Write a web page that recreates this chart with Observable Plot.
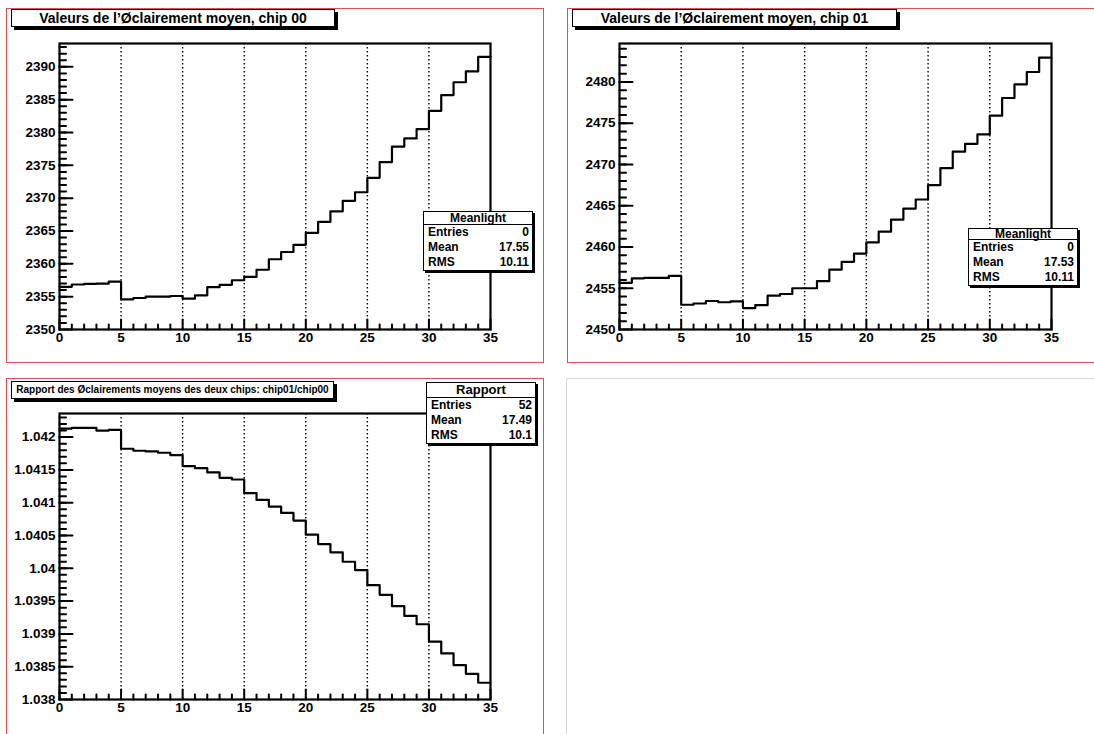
<!DOCTYPE html>
<html><head><meta charset="utf-8">
<script src="https://cdn.jsdelivr.net/npm/d3@7"></script>
<script src="https://cdn.jsdelivr.net/npm/@observablehq/plot@0.6"></script>
<style>
body{margin:0;background:#fff;}
#canvas{position:relative;width:1094px;height:734px;overflow:hidden;background:#fff;font-family:"Liberation Sans",Arial,Helvetica,sans-serif;font-weight:bold;color:#000;}
.pad{position:absolute;box-sizing:border-box;}
.plot{position:absolute;}
.title{position:absolute;box-sizing:border-box;border:1px solid #000;background:#fff;box-shadow:3px 3px 0 #000;text-align:center;white-space:nowrap;}
.stats{position:absolute;box-sizing:border-box;border:1px solid #000;background:#fff;box-shadow:2px 2px 0 #000;font-size:12px;}
.stats .hd{text-align:center;border-bottom:1px solid #000;}
.stats .row{display:flex;justify-content:space-between;padding:0 3px 0 4px;height:15px;line-height:15px;}
</style></head>
<body><div id="canvas"></div>
<script>
// ---- data ----
const binEdges = [0,1,2,3,4,5,6,7,8,9,10,11,12,13,14,15,16,17,18,19,20,21,22,23,24,25,26,27,28,29,30,31,32,33,34,35];
const chip00 = [2356.5,2356.85,2356.95,2357.0,2357.3,2354.6,2354.8,2355.0,2355.0,2355.1,2354.7,2355.2,2356.45,2356.8,2357.5,2358.0,2359.1,2360.7,2361.8,2362.9,2364.7,2366.4,2368.0,2369.6,2370.9,2373.1,2375.5,2377.85,2379.1,2380.5,2383.3,2385.7,2387.65,2389.3,2391.5];
const chip01 = [2455.65,2456.2,2456.25,2456.25,2456.5,2453.0,2453.15,2453.45,2453.3,2453.4,2452.6,2452.95,2454.1,2454.3,2455.0,2455.0,2455.85,2457.25,2458.2,2459.2,2460.55,2461.85,2463.3,2464.65,2465.75,2467.5,2469.55,2471.55,2472.5,2473.65,2475.9,2478.05,2479.7,2481.2,2482.95];
const ratio = [1.04213,1.04214,1.04214,1.04210,1.04211,1.041823,1.041792,1.041782,1.041762,1.041726,1.041558,1.041527,1.041461,1.041379,1.041354,1.041145,1.041043,1.040941,1.040844,1.040727,1.040513,1.040370,1.040243,1.040100,1.039973,1.039743,1.039595,1.039422,1.039274,1.039147,1.038882,1.038703,1.038525,1.038392,1.038255];

const xMajorTicks = [0,5,10,15,20,25,30,35];
const xGrid = [5,10,15,20,25,30];
const y1Ticks = [2350,2355,2360,2365,2370,2375,2380,2385,2390];
const y1Labels = ["2350","2355","2360","2365","2370","2375","2380","2385","2390"];
const y2Ticks = [2450,2455,2460,2465,2470,2475,2480];
const y2Labels = ["2450","2455","2460","2465","2470","2475","2480"];
const y3Ticks = [1.038,1.0385,1.039,1.0395,1.04,1.0405,1.041,1.0415,1.042];
const y3Labels = ["1.038","1.0385","1.039","1.0395","1.04","1.0405","1.041","1.0415","1.042"];

const titles = ["Valeurs de l\u2019\u00D8clairement moyen, chip 00","Valeurs de l\u2019\u00D8clairement moyen, chip 01","Rapport des \u00D8clairements moyens des deux chips: chip01/chip00"];
const statNames = ["Meanlight","Meanlight","Rapport"];
const statEntries = ["0","0","52"];
const statMean = ["17.55","17.53","17.49"];
const statRMS = ["10.11","10.11","10.1"];

// ---- drawing ----
const canvas = document.getElementById("canvas");
function el(cls, css, html){const d=document.createElement("div");d.className=cls;Object.assign(d.style,css);if(html!==undefined)d.innerHTML=html;canvas.appendChild(d);return d;}

// pad borders
el("pad",{left:"6px",top:"8px",width:"538px",height:"355px",border:"1px solid #e05050"});
el("pad",{left:"567px",top:"8px",width:"540px",height:"355px",border:"1px solid #e05050"});
el("pad",{left:"6px",top:"378px",width:"538px",height:"370px",border:"1px solid #e05050"});
el("pad",{left:"566px",top:"378px",width:"540px",height:"370px",border:"1px solid #d8d8d8"});

function histPlot(values, yDomain, yTicks, yLabels, yMinor, w, h, m){
  const pts = binEdges.map((x,i)=>({x, y: values[Math.min(i, values.length-1)]}));
  const xMinor = binEdges.filter(v=>v%5!==0);
  const frameW = w - m[0] - m[1], frameH = h - m[2] - m[3];
  const xDom = [0,35];
  const xPerPx = (xDom[1]-xDom[0])/frameW, yPerPx = (yDomain[1]-yDomain[0])/frameH;
  // inward tick segments (two points each), lengths in pixels converted to data units
  const tk = [];
  let k = 0;
  const seg = (x1,y1,x2,y2)=>{tk.push({x:x1,y:y1,k});tk.push({x:x2,y:y2,k});k++;};
  xMinor.forEach(x=>seg(x,yDomain[0],x,yDomain[0]+5*yPerPx));
  xMajorTicks.forEach(x=>seg(x,yDomain[0],x,yDomain[0]+10*yPerPx));
  yMinor.forEach(y=>seg(xDom[0],y,xDom[0]+6.5*xPerPx,y));
  yTicks.forEach(y=>seg(xDom[0],y,xDom[0]+13*xPerPx,y));
  return Plot.plot({
    width:w, height:h,
    marginLeft:m[0], marginRight:m[1], marginTop:m[2], marginBottom:m[3],
    x:{domain:xDom}, y:{domain:yDomain},
    style:{fontFamily:"'Liberation Sans', Arial, sans-serif", fontSize:"13.5px", fontWeight:"bold", color:"#000", background:"transparent", overflow:"visible"},
    marks:[
      Plot.ruleX(xGrid,{stroke:"#000",strokeWidth:1.4,strokeDasharray:"1.6,2.4"}),
      Plot.line(pts,{x:"x",y:"y",curve:"step-after",stroke:"#000",strokeWidth:2.2}),
      Plot.line(tk,{x:"x",y:"y",z:"k",stroke:"#000",strokeWidth:2}),
      Plot.axisX(xMajorTicks,{tickSize:0,tickPadding:3,label:null,tickFormat:d=>String(d)}),
      Plot.axisY(yTicks,{tickSize:0,tickPadding:4,label:null,tickFormat:d=>yLabels[yTicks.indexOf(d)]}),
      Plot.frame({stroke:"#000",strokeWidth:2.2})
    ]
  });
}

const p1 = histPlot(chip00,[2350,2393.55],y1Ticks,y1Labels,d3.range(2351,2394,1),550,370,[59,60,43,41]);
const p2 = histPlot(chip01,[2450,2484.65],y2Ticks,y2Labels,d3.range(2451,2485,1),544,370,[69,43,43,41]);
const p3 = histPlot(ratio,[1.038,1.04236],y3Ticks,y3Labels,d3.range(1.0381,1.04236,0.0001),550,364,[59,60,43,35]);
[[p1,0,0],[p2,550,0],[p3,0,370]].forEach(([p,l,t])=>{const d=el("plot",{left:l+"px",top:t+"px"});d.appendChild(p);});

// title boxes
el("title",{left:"11px",top:"9px",width:"324px",height:"18px",fontSize:"14px",lineHeight:"16px"},titles[0]);
el("title",{left:"572px",top:"9px",width:"325px",height:"18px",fontSize:"14px",lineHeight:"16px"},titles[1]);
el("title",{left:"11px",top:"381px",width:"323px",height:"18px",fontSize:"10px",lineHeight:"16px"},titles[2]);

// stats boxes
function stats(i,left,top,hdH,hdSize){
  el("stats",{left:left+"px",top:top+"px",width:"110px"},
    `<div class="hd" style="height:${hdH}px;line-height:${hdH}px;font-size:${hdSize}px">${statNames[i]}</div>`+
    `<div class="row"><span>Entries</span><span>${statEntries[i]}</span></div>`+
    `<div class="row"><span>Mean</span><span>${statMean[i]}</span></div>`+
    `<div class="row"><span>RMS</span><span>${statRMS[i]}</span></div>`);
}
stats(0,423,211,12,12);
stats(1,968,228,10,12);
stats(2,426,382,14,13);
</script></body></html>
